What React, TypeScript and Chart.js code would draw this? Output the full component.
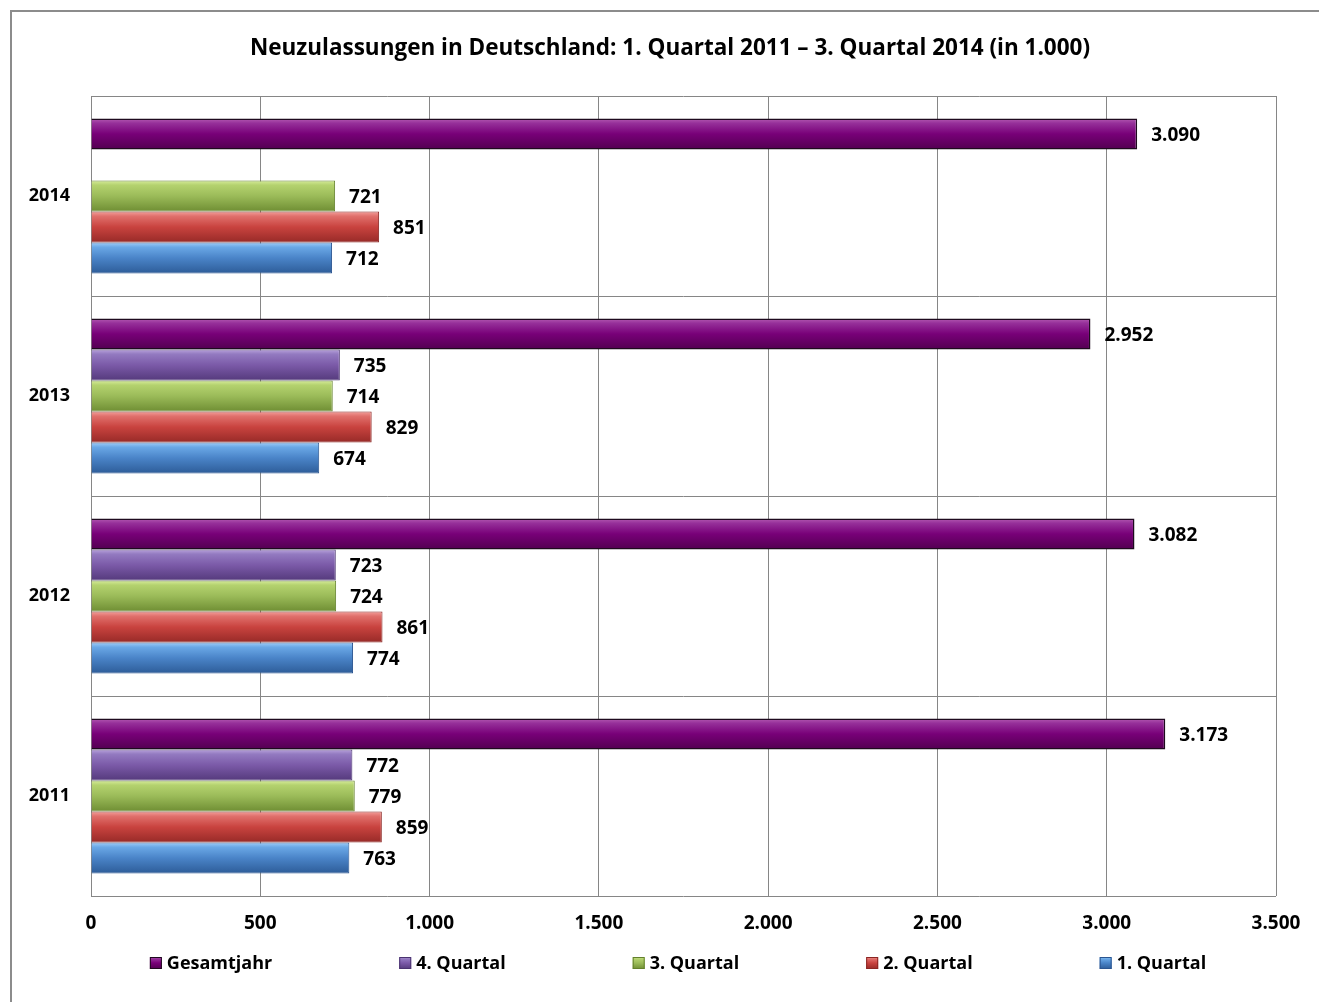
import React, { useEffect, useRef } from "react";
import { Chart, registerables } from "chart.js";

Chart.register(...registerables);

const titleText = "Neuzulassungen in Deutschland: 1. Quartal 2011 – 3. Quartal 2014 (in 1.000)";
const years = ["2014", "2013", "2012", "2011"];
const seriesNames = ["Gesamtjahr", "4. Quartal", "3. Quartal", "2. Quartal", "1. Quartal"];
const gesamtjahr = [3090, 2952, 3082, 3173];
const quartal4 = [null, 735, 723, 772];
const quartal3 = [721, 714, 724, 779];
const quartal2 = [851, 829, 861, 859];
const quartal1 = [712, 674, 774, 763];
const xMin = 0;
const xMax = 3500;
const xStep = 500;

const palettes = [
  { hi: "#b45ab2", light: "#96309a", mid: "#780078", dark: "#520050", border: "#1e0a1e" },
  { hi: "#b8a2dc", light: "#937ac0", mid: "#7b5aa8", dark: "#553a7c", border: "#4a3370" },
  { hi: "#d6ec9a", light: "#b4d26e", mid: "#9bbb59", dark: "#6f8e33", border: "#63802c" },
  { hi: "#f4a09c", light: "#e0706c", mid: "#c9433f", dark: "#972a27", border: "#8a2522" },
  { hi: "#9fcdf8", light: "#6aa8e6", mid: "#4a84c8", dark: "#2d5c98", border: "#2b5590" },
];

const FONT = "'Open Sans'";
const fmt = (v: number) => String(v).replace(/\B(?=(\d{3})+(?!\d))/g, ".");

function makeGrad(ctx: CanvasRenderingContext2D, top: number, h: number, p: any) {
  const g = ctx.createLinearGradient(0, top, 0, top + h);
  g.addColorStop(0, p.hi);
  g.addColorStop(0.15, p.light);
  g.addColorStop(0.5, p.mid);
  g.addColorStop(1, p.dark);
  return g;
}

const gradientPlugin = {
  id: "barGradient",
  beforeDatasetsDraw(chart: any) {
    const ctx = chart.ctx;
    chart.data.datasets.forEach((ds: any, di: number) => {
      const meta = chart.getDatasetMeta(di);
      const p = palettes[di];
      meta.data.forEach((el: any, i: number) => {
        if (!el || ds.data[i] == null || isNaN(el.y) || isNaN(el.height)) return;
        const h = el.height;
        const top = el.y - h / 2;
        el.options = Object.assign({}, el.options, { backgroundColor: makeGrad(ctx, top, h, p) });
      });
    });
  },
};

const labelPlugin = {
  id: "valueLabels",
  afterDatasetsDraw(chart: any) {
    const ctx = chart.ctx;
    ctx.save();
    ctx.font = `bold 19px ${FONT}`;
    ctx.fillStyle = "#000";
    ctx.textAlign = "left";
    ctx.textBaseline = "middle";
    chart.data.datasets.forEach((ds: any, di: number) => {
      const meta = chart.getDatasetMeta(di);
      meta.data.forEach((el: any, i: number) => {
        const v = ds.data[i];
        if (v == null || isNaN(el.x)) return;
        ctx.fillText(fmt(v), el.x + 14, el.y + 2);
      });
    });
    ctx.restore();
  },
};

const legendPlugin = {
  id: "customLegend",
  afterDraw(chart: any) {
    const ctx = chart.ctx;
    ctx.save();
    ctx.font = `bold 18px ${FONT}`;
    ctx.textBaseline = "middle";
    ctx.textAlign = "left";
    const box = 12;
    const gapText = 5;
    const gapItem = 127;
    const items = chart.data.datasets.map((ds: any) => ({
      label: ds.label,
      w: box + gapText + ctx.measureText(ds.label).width,
    }));
    const total = items.reduce((s: number, it: any) => s + it.w, 0) + gapItem * (items.length - 1);
    const cx = 666;
    const cy = 951;
    let x = cx - total / 2;
    items.forEach((it: any, i: number) => {
      const p = palettes[i];
      ctx.fillStyle = makeGrad(ctx, cy - box / 2, box, p);
      ctx.fillRect(x, cy - box / 2, box, box);
      ctx.strokeStyle = p.border;
      ctx.lineWidth = 1;
      ctx.strokeRect(x + 0.5, cy - box / 2 + 0.5, box - 1, box - 1);
      ctx.fillStyle = "#000";
      ctx.fillText(it.label, x + box + gapText, cy + 1);
      x += it.w + gapItem;
    });
    ctx.restore();
  },
};

export default function App() {
  const ref = useRef<HTMLCanvasElement | null>(null);

  useEffect(() => {
    if (!ref.current) return;
    const seriesData = [gesamtjahr, quartal4, quartal3, quartal2, quartal1];
    const chart = new Chart(ref.current, {
      type: "bar",
      data: {
        labels: years,
        datasets: seriesNames.map((name, i) => ({
          label: name,
          data: seriesData[i],
          backgroundColor: palettes[i].mid,
          borderColor: palettes[i].border,
          borderWidth: i === 0 ? 1.5 : 1,
          categoryPercentage: 0.775,
          barPercentage: 1,
        })),
      },
      plugins: [gradientPlugin, labelPlugin, legendPlugin],
      options: {
        indexAxis: "y",
        responsive: false,
        animation: false,
        layout: { padding: { left: 9, right: 0, top: 0, bottom: 56 } },
        plugins: {
          legend: { display: false },
          tooltip: { enabled: false },
          title: {
            display: true,
            text: titleText,
            color: "#000",
            font: { family: FONT, size: 22.5, weight: "bold" },
            padding: { top: 23, bottom: 34 },
          },
        },
        scales: {
          x: {
            min: xMin,
            max: xMax,
            ticks: {
              stepSize: xStep,
              color: "#000",
              font: { family: FONT, size: 19, weight: "bold" },
              padding: 16,
              callback: (v: any) => fmt(Number(v)),
            },
            grid: { color: "#868686", drawTicks: false },
            border: { display: false },
            afterFit: (s: any) => {
              s.height = 50;
            },
          },
          y: {
            ticks: {
              color: "#000",
              font: { family: FONT, size: 18, weight: "bold" },
              padding: 21,
            },
            grid: { color: "#868686", drawTicks: false },
            border: { display: false },
            afterFit: (s: any) => {
              s.width = 70;
            },
          },
          yRight: {
            type: "category",
            labels: years,
            position: "right",
            grid: { display: false },
            ticks: { display: false },
            border: { display: false },
            afterFit: (s: any) => {
              s.width = 43;
            },
          },
        },
      } as any,
    });
    return () => chart.destroy();
  }, []);

  return (
    <div
      style={{
        position: "fixed",
        left: 10,
        top: 10,
        width: 1320,
        height: 1000,
        borderLeft: "2px solid #8c8c8c",
        borderTop: "2px solid #8c8c8c",
        background: "#fff",
      }}
    >
      <canvas ref={ref} width={1307} height={990} style={{ display: "block" }} />
    </div>
  );
}
